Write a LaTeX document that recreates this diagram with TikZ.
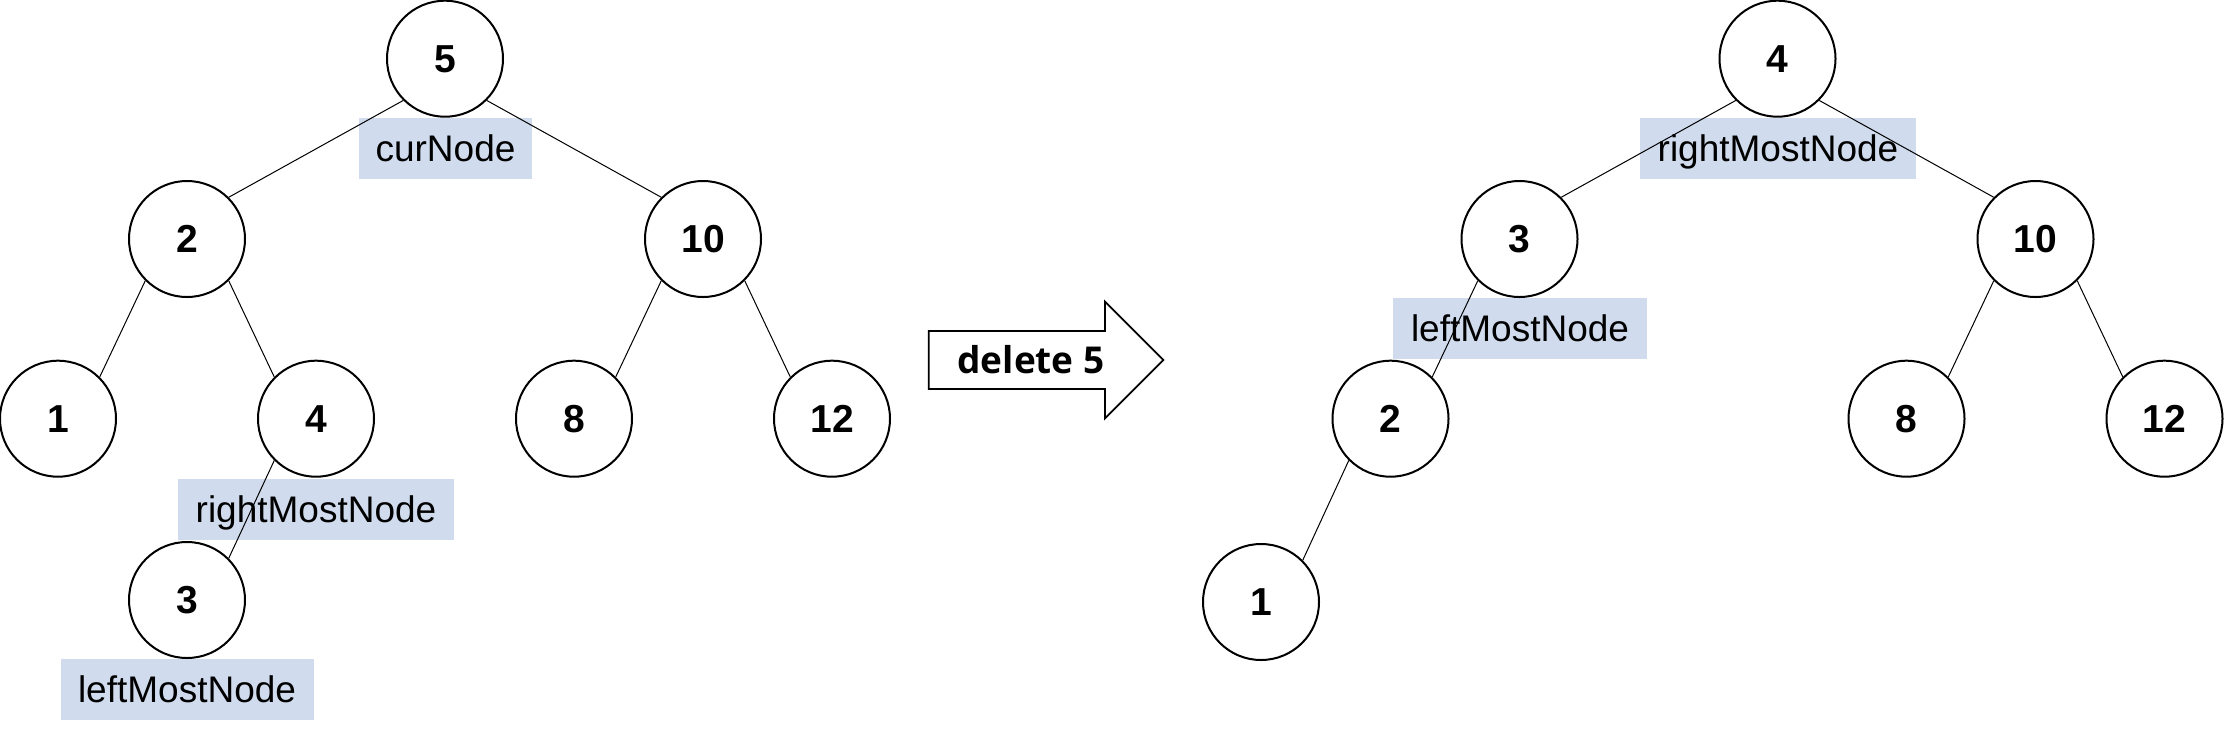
\documentclass[tikz,border=0pt]{standalone}
\usepackage{fontspec}
\setmainfont{Liberation Sans}
\newfontfamily\arrowfont{Open Sans}
\definecolor{lbl}{RGB}{208,220,238}
\begin{document}
\begin{tikzpicture}[x=0.5pt,y=-0.5pt,
  tn/.style={circle,draw,line width=1pt,fill=white,minimum size=58pt,inner sep=0pt,
    font=\fontsize{19.5}{22}\selectfont\bfseries,text height=13.9pt,text depth=0pt},
  lb/.style={rectangle,fill=lbl,inner xsep=0pt,inner ysep=0pt,minimum height=30.5pt,
    font=\fontsize{18.5}{22}\selectfont,text height=13.2pt,text depth=0pt},
  ed/.style={line width=0.5pt},
  arr/.style={draw,line width=0.9pt,fill=white}]
\useasboundingbox (0,0) rectangle (2224,735);

% labels (under edges)
\node[lb,minimum width=86.5pt] (cur) at (445.5,148.5) {curNode};
\node[lb,minimum width=138pt] (rmL) at (316,509) {rightMostNode};
\node[lb,minimum width=126.5pt] (lmL) at (187,689.5) {leftMostNode};
\node[lb,minimum width=138pt] (rmR) at (1778,148.5) {rightMostNode};
\node[lb,minimum width=127pt] (lmR) at (1520,328.5) {leftMostNode};

% left tree
\node[tn] (a5)  at (445,58.7) {5};
\node[tn] (a2)  at (187,239) {2};
\node[tn] (a10) at (703,239) {10};
\node[tn] (a1)  at (58,418.7) {1};
\node[tn] (a4)  at (316,418.7) {4};
\node[tn] (a8)  at (574,418.7) {8};
\node[tn] (a12) at (832,418.7) {12};
\node[tn] (a3)  at (187,600) {3};
\draw[ed] (a5.south west) -- (a2.north east);
\draw[ed] (a5.south east) -- (a10.north west);
\draw[ed] (a2.south west) -- (a1.north east);
\draw[ed] (a2.south east) -- (a4.north west);
\draw[ed] (a10.south west) -- (a8.north east);
\draw[ed] (a10.south east) -- (a12.north west);
\draw[ed] (a4.south west) -- (a3.north east);

% arrow
\draw[arr] (928.7,331) -- (1105,331) -- (1105,301.7) -- (1163.3,360) -- (1105,418.3) -- (1105,389) -- (928.7,389) -- cycle;
\node[font=\arrowfont\fontsize{18.5}{22}\selectfont\bfseries,text height=13.4pt,text depth=0pt,inner sep=0pt] (del) at (1031,360) {delete 5};

% right tree
\node[tn] (b4)  at (1777.5,58.7) {4};
\node[tn] (b3)  at (1519.5,239) {3};
\node[tn] (b10) at (2035.5,239) {10};
\node[tn] (b2)  at (1390.5,418.7) {2};
\node[tn] (b8)  at (1906.5,418.7) {8};
\node[tn] (b12) at (2164.5,418.7) {12};
\node[tn] (b1)  at (1261,602) {1};
\draw[ed] (b4.south west) -- (b3.north east);
\draw[ed] (b4.south east) -- (b10.north west);
\draw[ed] (b3.south west) -- (b2.north east);
\draw[ed] (b2.south west) -- (b1.north east);
\draw[ed] (b10.south west) -- (b8.north east);
\draw[ed] (b10.south east) -- (b12.north west);
\end{tikzpicture}
\end{document}
